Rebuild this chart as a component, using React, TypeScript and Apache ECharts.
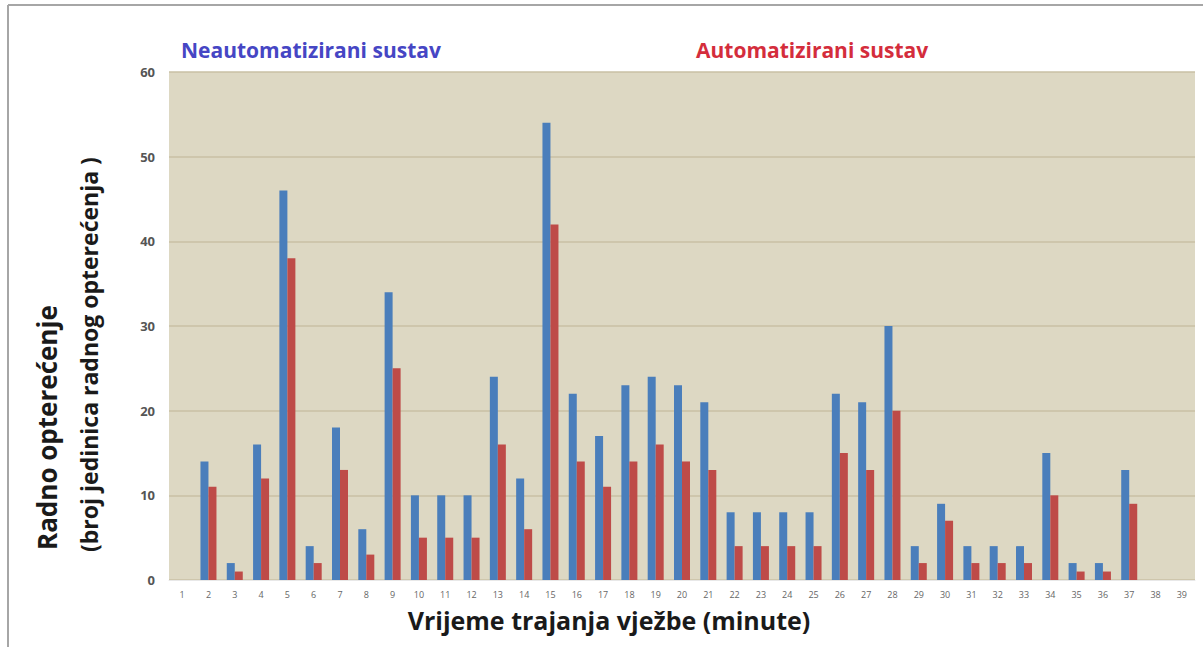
import React, { useEffect, useRef } from "react";
import * as echarts from "echarts";

const categories = Array.from({ length: 39 }, (_, i) => String(i + 1));
const neautomatizirani = [0, 14, 2, 16, 46, 4, 18, 6, 34, 10, 10, 10, 24, 12, 54, 22, 17, 23, 24, 23, 21, 8, 8, 8, 8, 22, 21, 30, 4, 9, 4, 4, 4, 15, 2, 2, 13, 0, 0];
const automatizirani = [0, 11, 1, 12, 38, 2, 13, 3, 25, 5, 5, 5, 16, 6, 42, 14, 11, 14, 16, 14, 13, 4, 4, 4, 4, 15, 13, 20, 2, 7, 2, 2, 2, 10, 1, 1, 9, 0, 0];
const yTicks = [0, 10, 20, 30, 40, 50, 60];

export default function App() {
  const ref = useRef<HTMLDivElement>(null);
  useEffect(() => {
    document.body.style.margin = "0";
    const chart = echarts.init(ref.current!, null, { renderer: "svg" });
    const font = "'Open Sans', 'Noto Sans', sans-serif";
    chart.setOption({
      animation: false,
      backgroundColor: "#ffffff",
      grid: { left: 169, right: 8, top: 72, bottom: 67, backgroundColor: "#ddd8c3", show: true, borderWidth: 0 },
      xAxis: {
        type: "category",
        data: categories,
        axisLine: { show: true, lineStyle: { color: "#e8e8e8", width: 1 } },
        axisTick: { show: false },
        axisLabel: { fontSize: 9, color: "#666666", margin: 10, fontFamily: font, interval: 0 },
      },
      yAxis: {
        type: "value",
        min: yTicks[0],
        max: yTicks[yTicks.length - 1],
        interval: 10,
        axisLine: { show: false },
        axisTick: { show: false },
        axisLabel: { fontSize: 13, color: "#555555", margin: 14, fontFamily: font, fontWeight: "bold" },
        splitLine: { show: true, lineStyle: { color: "#c8c0a4", width: 1.5 } },
      },
      series: [
        {
          name: "Neautomatizirani sustav",
          type: "bar",
          data: neautomatizirani,
          barWidth: 8,
          barGap: "0%",
          itemStyle: { color: "#4a7ebb" },
        },
        {
          name: "Automatizirani sustav",
          type: "bar",
          data: automatizirani,
          barWidth: 8,
          barGap: "0%",
          itemStyle: { color: "#be4b48" },
        },
      ],
      graphic: [
        { type: "line", shape: { x1: 8, y1: 5, x2: 1203, y2: 5 }, style: { stroke: "#a6a6a6", lineWidth: 2 } },
        { type: "line", shape: { x1: 8, y1: 5, x2: 8, y2: 647 }, style: { stroke: "#a6a6a6", lineWidth: 2 } },
        {
          type: "text", left: 181, top: 39,
          style: { text: "Neautomatizirani sustav", font: `bold 21px ${font}`, fill: "#4646c4" },
        },
        {
          type: "text", left: 696, top: 39,
          style: { text: "Automatizirani sustav", font: `bold 21px ${font}`, fill: "#d42d3c" },
        },
        {
          type: "text", x: 609, y: 620,
          style: { text: "Vrijeme trajanja vježbe (minute)", font: `bold 25px ${font}`, fill: "#1a1a1a", align: "center", verticalAlign: "middle" },
        },
        {
          type: "text", x: 47, y: 550, rotation: Math.PI / 2,
          style: { text: "Radno opterećenje", font: `bold 26px ${font}`, fill: "#1a1a1a", align: "left", verticalAlign: "middle" },
        },
        {
          type: "text", x: 89, y: 552, rotation: Math.PI / 2,
          style: { text: "(broj jedinica radnog opterećenja )", font: `bold 23px ${font}`, fill: "#1a1a1a", align: "left", verticalAlign: "middle" },
        },
      ],
    });
    return () => chart.dispose();
  }, []);
  return <div ref={ref} style={{ width: 1203, height: 647 }} />;
}
